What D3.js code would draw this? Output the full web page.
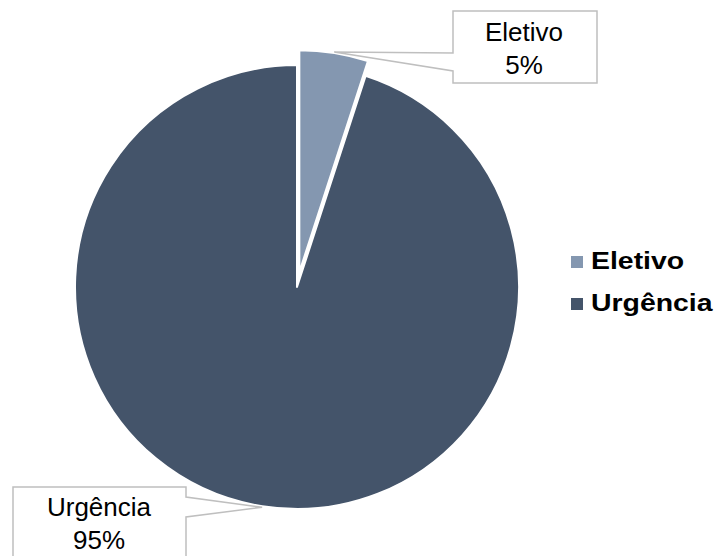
<!DOCTYPE html>
<html>
<head>
<meta charset="utf-8">
<script src="https://cdn.jsdelivr.net/npm/d3@7"></script>
<style>
  html, body { margin: 0; padding: 0; background: #ffffff; }
  svg { display: block; }
  text { font-family: "Liberation Sans", Arial, sans-serif; }
</style>
</head>
<body>
<svg id="chart" width="718" height="556"></svg>
<script>
// Tipo de atendimento (percentual)
const categories = ["Eletivo", "Urgência"];
const values = [5, 95];
const percentLabels = ["5%", "95%"];
const colors = ["#8497b0", "#44546a"];

const width = 718, height = 556;
const cx = 297, cy = 287, radius = 222;
const explode = [15, 0];          // offset of each slice along its mid-angle

const svg = d3.select("#chart");

const pie = d3.pie().sort(null).value(d => d.value);
const arcs = pie(categories.map((c, i) => ({ name: c, value: values[i], i })));
const arc = d3.arc().innerRadius(0).outerRadius(radius);

const offsetOf = d => {
  const a = (d.startAngle + d.endAngle) / 2;
  const k = explode[d.data.i];
  return [k * Math.sin(a), -k * Math.cos(a)];
};

const g = svg.append("g").attr("transform", `translate(${cx},${cy})`);

g.selectAll("path.slice")
  .data(arcs)
  .join("path")
  .attr("class", "slice")
  .attr("transform", d => `translate(${offsetOf(d)})`)
  .attr("d", arc)
  .attr("fill", d => colors[d.data.i])
  .attr("stroke", "#ffffff")
  .attr("stroke-width", 2)
  .attr("stroke-linejoin", "round");

// Callout boxes with pointers to the outer edge of each slice
const boxes = [
  { x0: 453, y0: 11, x1: 597, y1: 83, side: "left", py0: 53, py1: 71, tx: 524, ty: 41 },
  { x0: 13, y0: 487, x1: 186, y1: 580, side: "right", py0: 497, py1: 517, tx: 99, ty: 516 }
];

arcs.forEach((d, i) => {
  const b = boxes[i];
  const a = (d.startAngle + d.endAngle) / 2;
  const [ox, oy] = offsetOf(d);
  const tip = [cx + ox + (radius + 1) * Math.sin(a), cy + oy - (radius + 1) * Math.cos(a)];
  const p = d3.path();
  if (b.side === "left") {
    p.moveTo(b.x0, b.y0);
    p.lineTo(b.x1, b.y0);
    p.lineTo(b.x1, b.y1);
    p.lineTo(b.x0, b.y1);
    p.lineTo(b.x0, b.py1);
    p.lineTo(tip[0], tip[1]);
    p.lineTo(b.x0, b.py0);
    p.closePath();
  } else {
    p.moveTo(b.x0, b.y0);
    p.lineTo(b.x1, b.y0);
    p.lineTo(b.x1, b.py0);
    p.lineTo(tip[0], tip[1]);
    p.lineTo(b.x1, b.py1);
    p.lineTo(b.x1, b.y1);
    p.lineTo(b.x0, b.y1);
    p.closePath();
  }
  svg.append("path")
    .attr("d", p.toString())
    .attr("fill", "#ffffff")
    .attr("stroke", "#bfbfbf")
    .attr("stroke-width", 1.5);

  const t = svg.append("text")
    .attr("text-anchor", "middle")
    .attr("font-size", 26)
    .attr("fill", "#000000");
  t.append("tspan").attr("x", b.tx).attr("y", b.ty).text(d.data.name);
  t.append("tspan").attr("x", b.tx).attr("y", b.ty + 33).text(percentLabels[i]);
});

// Legend
const legend = svg.append("g").attr("transform", "translate(571,0)");
const rows = legend.selectAll("g")
  .data(categories)
  .join("g")
  .attr("transform", (d, i) => `translate(0,${269 + i * 42})`);

rows.append("rect")
  .attr("x", 0)
  .attr("y", -13)
  .attr("width", 12)
  .attr("height", 12)
  .attr("fill", (d, i) => colors[i]);

rows.append("text")
  .attr("x", 20)
  .attr("y", 0)
  .attr("font-size", 24.5)
  .attr("font-weight", "bold")
  .attr("fill", "#000000")
  .attr("transform", "translate(20,0) scale(1.16,1) translate(-20,0)")
  .text(d => d);
</script>
</body>
</html>
